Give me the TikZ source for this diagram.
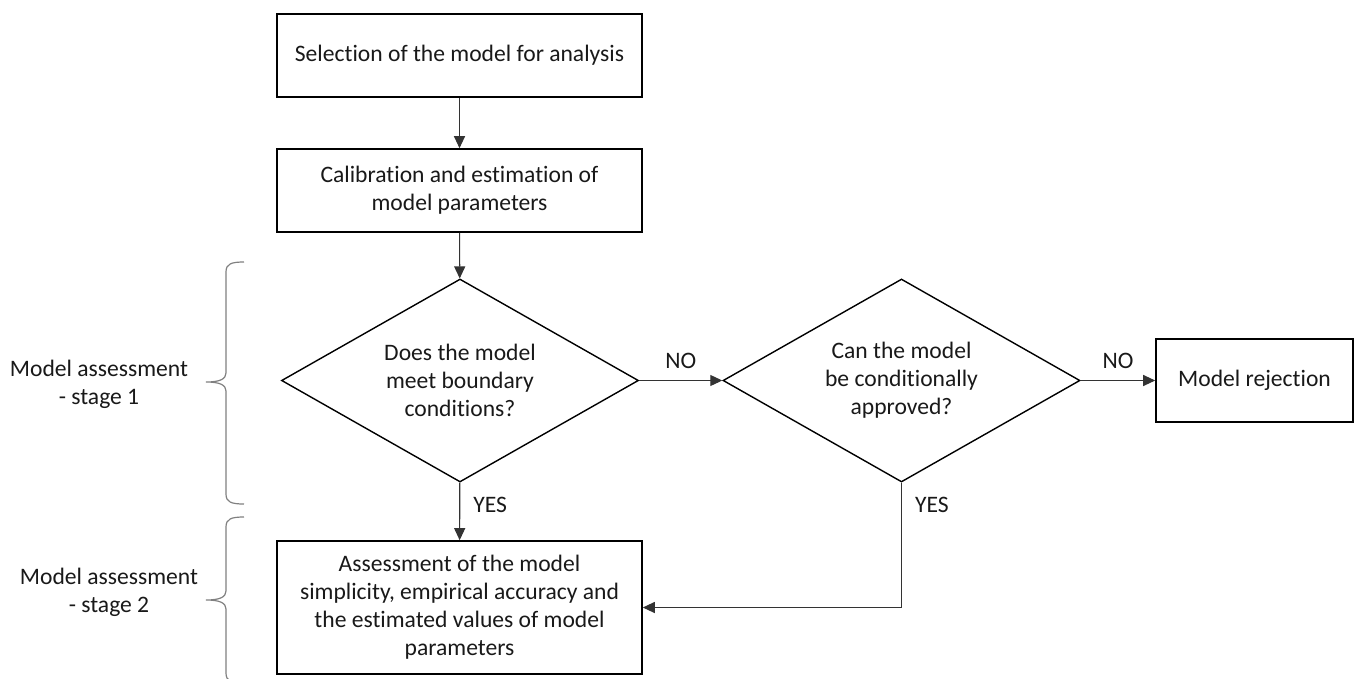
\documentclass[tikz,border=0pt]{standalone}
\usepackage{fontspec}
\setmainfont[Ligatures = NoCommon]{Carlito}
\usetikzlibrary{arrows.meta}
\usetikzlibrary{shapes.geometric}
\tikzset{box/.style = {draw, line width = 1.6pt, minimum width = 365pt, minimum height = 83pt,
                       align = center, inner sep = 2pt}}
\tikzset{query/.style = {draw, shape = diamond, line width = 1.4pt, aspect = 1.76,
                         minimum width = 357pt, minimum height = 203pt, align = center, inner sep = 1pt}}
\tikzset{arr/.style = {draw = black!80, line width = 1.1pt, -{Triangle[length = 12pt, width = 11pt]}}}
\tikzset{tag/.style = {inner sep = 0pt}}
\tikzset{curly/.style = {draw = black!50, line width = 1.2pt}}

\begin{document}
\begin{tikzpicture}[x = 1pt, y = -1pt, font = \fontsize{23.6}{28}\selectfont, text = black!90]
    \useasboundingbox (0, 0) rectangle (1355, 678);

    \node [box] (select) at (459.5, 55.5) {Selection of the model for analysis};
    \node [box] (calib) at (459.5, 190.5) {Calibration and estimation of\\model parameters};
    \node [query] (meet) at (460, 380.5) {Does the model\\meet boundary\\conditions?};
    \node [query] (cond) at (901.5, 380.5) {Can the model\\be conditionally\\approved?};
    \node [box, minimum width = 197pt] (reject) at (1254.5, 380.5) {Model rejection};
    \node [box, minimum height = 133pt] (assess) at (459.5, 607.5)
        {Assessment of the model\\simplicity, empirical accuracy and\\the estimated values of model\\parameters};

    \draw [arr] (select) -- (calib);
    \draw [arr] (calib) -- (meet);
    \draw [arr] (meet) -- node [tag, above = 11pt] {NO} (cond);
    \draw [arr] (cond) -- node [tag, above = 11pt] {NO} (reject);
    \draw [arr] (meet) -- node [tag, pos = 0.39, anchor = west, xshift = 13pt] {YES} (assess);
    \draw [arr] (cond) |- node [tag, pos = 0.09, anchor = west, xshift = 13pt] {YES} (assess);

    \node [align = center] (stageone) at (99, 384) {Model assessment\\- stage 1};
    \node [align = center] (stagetwo) at (109, 592) {Model assessment\\- stage 2};
    \foreach \top/\tip/\bot in {262/382/504, 517/600/683} {
      \draw [curly] (244, \top) .. controls (231, \top) and (226, \top + 2) .. (226, \top + 10)
                    -- (226, \tip - 9) .. controls (226, \tip - 3) and (220, \tip) .. (206, \tip)
                    .. controls (220, \tip) and (226, \tip + 3) .. (226, \tip + 9)
                    -- (226, \bot - 10) .. controls (226, \bot - 2) and (231, \bot) .. (244, \bot);
    }
\end{tikzpicture}
\end{document}
